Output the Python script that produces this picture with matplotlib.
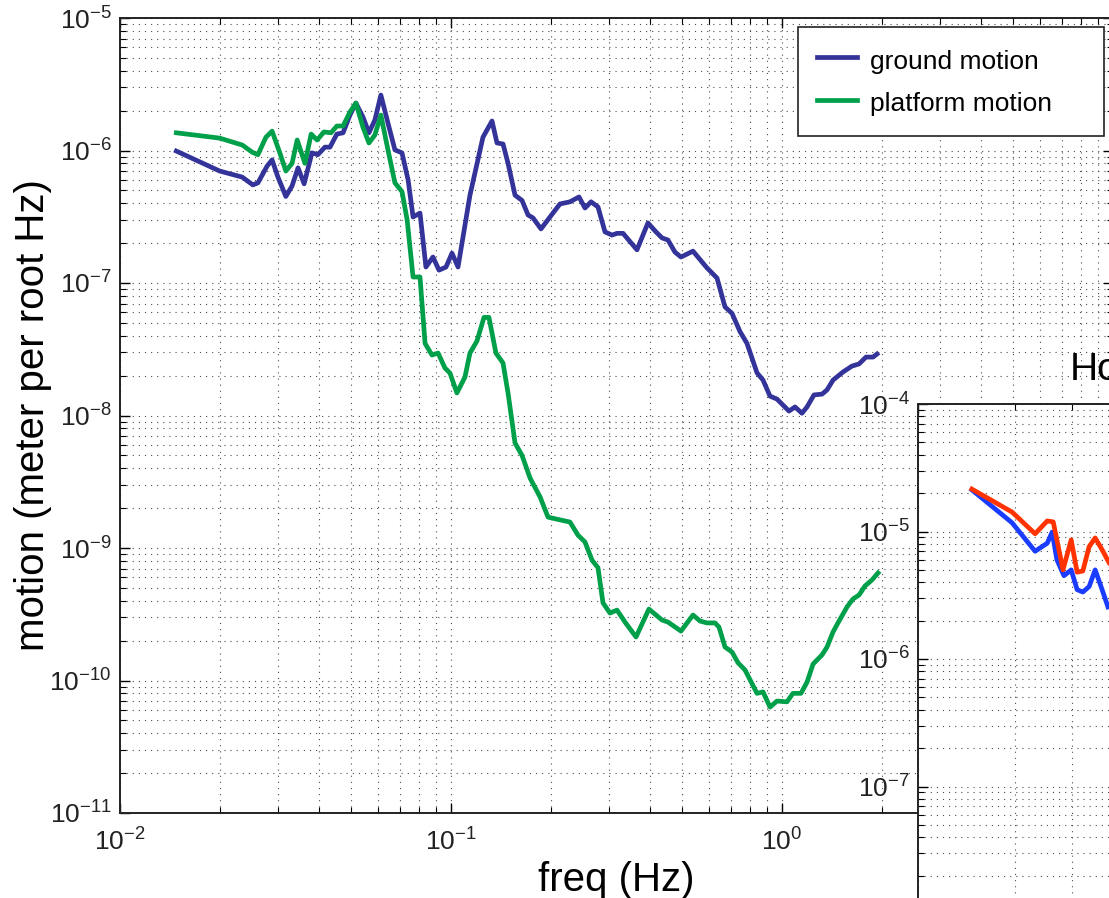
import numpy as np
import matplotlib
matplotlib.use("Agg")
import matplotlib.pyplot as plt
from matplotlib.ticker import LogLocator, NullFormatter

plt.rcParams["font.family"] = ["Liberation Sans", "DejaVu Sans"]
plt.rcParams["mathtext.fontset"] = "custom"
plt.rcParams["mathtext.rm"] = "Liberation Sans"

# ground / platform motion spectra (main panel)
freq_ground = [0.0148, 0.0200, 0.0234, 0.0252, 0.0261, 0.0278, 0.0288, 0.0300, 0.0317, 0.0331,
               0.0345, 0.0360, 0.0380, 0.0396, 0.0416, 0.0431, 0.0452, 0.0472, 0.0495, 0.0516,
               0.0542, 0.0565, 0.0589, 0.0614, 0.0645, 0.0677, 0.0711, 0.0742, 0.0768, 0.0806,
               0.0840, 0.0882, 0.0920, 0.0966, 0.1007, 0.1050,
               0.1141, 0.1249, 0.1330, 0.1377, 0.1436, 0.1487, 0.1561, 0.1639, 0.1709, 0.1769,
               0.1870, 0.1991, 0.2134, 0.2288, 0.2436, 0.2540, 0.2649, 0.2780, 0.2919, 0.3065,
               0.3174, 0.3310, 0.3646, 0.3935, 0.4162, 0.4340, 0.4524, 0.4750, 0.4952, 0.5384,
               0.5934, 0.6363, 0.6726, 0.7063, 0.7466, 0.7839, 0.8404, 0.8764, 0.9200, 0.9658,
               1.050, 1.095, 1.149, 1.190, 1.249, 1.321, 1.368, 1.426, 1.529, 1.627,
               1.709, 1.794, 1.884, 1.936]
ground = [9.9e-7, 7.0e-7, 6.3e-7, 5.5e-7, 5.7e-7, 7.6e-7, 8.5e-7, 6.3e-7, 4.5e-7, 5.4e-7,
          7.4e-7, 5.6e-7, 9.6e-7, 9.3e-7, 1.06e-6, 1.06e-6, 1.33e-6, 1.36e-6, 1.85e-6, 2.28e-6,
          1.79e-6, 1.36e-6, 1.70e-6, 2.62e-6, 1.61e-6, 1.01e-6, 9.6e-7, 6.0e-7, 3.15e-7, 3.37e-7,
          1.32e-7, 1.57e-7, 1.25e-7, 1.32e-7, 1.68e-7, 1.32e-7,
          4.6e-7, 1.26e-6, 1.67e-6, 1.14e-6, 1.12e-6, 8.0e-7, 4.6e-7, 4.2e-7, 3.26e-7, 3.1e-7,
          2.56e-7, 3.15e-7, 3.95e-7, 4.1e-7, 4.46e-7, 3.68e-7, 4.1e-7, 3.75e-7, 2.43e-7, 2.3e-7,
          2.37e-7, 2.37e-7, 1.78e-7, 2.84e-7, 2.43e-7, 2.19e-7, 2.11e-7, 1.71e-7, 1.57e-7, 1.74e-7,
          1.30e-7, 1.09e-7, 6.6e-8, 5.9e-8, 4.3e-8, 3.5e-8, 2.1e-8, 1.85e-8, 1.40e-8, 1.33e-8,
          1.08e-8, 1.16e-8, 1.04e-8, 1.16e-8, 1.43e-8, 1.45e-8, 1.56e-8, 1.85e-8, 2.13e-8, 2.36e-8,
          2.45e-8, 2.76e-8, 2.76e-8, 2.91e-8]

freq_platform = [0.0148, 0.0200, 0.0234, 0.0251, 0.0261, 0.0276, 0.0288, 0.0304, 0.0317, 0.0331,
                 0.0343, 0.0362, 0.0378, 0.0394, 0.0413, 0.0434, 0.0452, 0.0472, 0.0495, 0.0516,
                 0.0542, 0.0565, 0.0589, 0.0614, 0.0645, 0.0677, 0.0711, 0.0737, 0.0768, 0.0806,
                 0.0835, 0.0876, 0.0914, 0.0959, 0.0993, 0.1042, 0.1102, 0.1141, 0.1198, 0.1258,
                 0.1302, 0.1367, 0.1436, 0.1487, 0.1561, 0.1639, 0.1733, 0.1858, 0.1964, 0.2134,
                 0.2288, 0.2419, 0.2540, 0.2667, 0.2780, 0.2879, 0.3022, 0.3174, 0.3355, 0.3622,
                 0.3962, 0.4340, 0.4524, 0.4952, 0.5384, 0.5655, 0.5934, 0.6276, 0.6452, 0.6726,
                 0.7063, 0.7366, 0.7732, 0.8404, 0.8764, 0.9200, 0.9658, 1.035, 1.079, 1.141,
                 1.190, 1.241, 1.321, 1.368, 1.426, 1.476, 1.572, 1.638, 1.709, 1.782,
                 1.870, 1.950]
platform = [1.36e-6, 1.24e-6, 1.10e-6, 9.7e-7, 9.3e-7, 1.26e-6, 1.40e-6, 9.6e-7, 7.0e-7, 8.0e-7,
            1.20e-6, 8.0e-7, 1.33e-6, 1.20e-6, 1.38e-6, 1.36e-6, 1.53e-6, 1.53e-6, 1.95e-6, 2.28e-6,
            1.50e-6, 1.14e-6, 1.31e-6, 1.85e-6, 1.01e-6, 5.7e-7, 4.9e-7, 3.0e-7, 1.11e-7, 1.11e-7,
            3.5e-8, 2.86e-8, 2.96e-8, 2.28e-8, 2.09e-8, 1.48e-8, 1.95e-8, 2.96e-8, 3.65e-8, 5.5e-8,
            5.5e-8, 2.96e-8, 2.49e-8, 1.48e-8, 6.2e-9, 5.0e-9, 3.37e-9, 2.43e-9, 1.71e-9, 1.63e-9,
            1.57e-9, 1.25e-9, 1.11e-9, 8.1e-10, 7.1e-10, 3.85e-10, 3.23e-10, 3.40e-10, 2.76e-10, 2.13e-10,
            3.46e-10, 2.86e-10, 2.76e-10, 2.36e-10, 3.12e-10, 2.81e-10, 2.72e-10, 2.72e-10, 2.53e-10, 1.79e-10,
            1.64e-10, 1.36e-10, 1.20e-10, 8.0e-11, 8.2e-11, 6.3e-11, 7.0e-11, 6.9e-11, 8.0e-11, 8.0e-11,
            9.7e-11, 1.33e-10, 1.56e-10, 1.79e-10, 2.32e-10, 2.72e-10, 3.59e-10, 4.12e-10, 4.42e-10, 5.17e-10,
            5.74e-10, 6.48e-10]

# second (cropped) panel: horizontal motion
freq_hor_red = [0.0147, 0.0196, 0.0231, 0.0252, 0.0263, 0.0282, 0.0299, 0.0312, 0.0325, 0.0340,
                0.0355, 0.0373, 0.0392]
hor_red = [2.15e-5, 1.42e-5, 9.6e-6, 1.21e-5, 1.19e-5, 5.0e-6, 8.6e-6, 4.8e-6, 4.9e-6, 7.6e-6,
           8.9e-6, 7.2e-6, 5.7e-6]
freq_hor_blue = [0.0147, 0.0196, 0.0231, 0.0252, 0.0261, 0.0270, 0.0284, 0.0299, 0.0312, 0.0325,
                 0.0340, 0.0355, 0.0373, 0.0389]
hor_blue = [2.12e-5, 1.17e-5, 7.0e-6, 8.1e-6, 9.9e-6, 6.0e-6, 4.5e-6, 5.0e-6, 3.5e-6, 3.35e-6,
            3.7e-6, 5.0e-6, 3.5e-6, 2.56e-6]

W, H = 1109, 898
fig = plt.figure(figsize=(W / 100, H / 100), dpi=100)


def style_log_axes(ax):
    ax.set_xscale("log")
    ax.set_yscale("log")
    for axis in (ax.xaxis, ax.yaxis):
        axis.set_major_locator(LogLocator(base=10, numticks=30))
        axis.set_minor_locator(LogLocator(base=10, subs=np.arange(2, 10), numticks=300))
        axis.set_minor_formatter(NullFormatter())
    ax.tick_params(which="both", direction="in", top=True, right=True,
                   labelsize=19, labelcolor="#222222", pad=6)
    ax.tick_params(axis="x", which="major", pad=11)
    ax.tick_params(which="major", length=7, width=1)
    ax.tick_params(which="minor", length=4, width=0.8)
    ax.grid(True, which="both", linestyle=(0, (1, 4.5)), color="0.3", linewidth=0.8)
    ax.set_axisbelow(True)
    for sp in ax.spines.values():
        sp.set_linewidth(1.4)
        sp.set_color("#222222")


# main axes (right edge runs slightly past the cropped figure)
ax = fig.add_axes([120 / W, 1 - 813 / H, 993 / W, 795 / H])
style_log_axes(ax)
ax.plot(freq_ground, ground, color="#333399", lw=3.4, label="ground motion")
ax.plot(freq_platform, platform, color="#00a04a", lw=3.4, label="platform motion")
ax.set_xlim(1e-2, 1e1)
ax.set_ylim(1e-11, 1e-5)
ax.set_xlabel("freq (Hz)", fontsize=29, labelpad=4)
ax.set_ylabel("motion (meter per root Hz)", fontsize=29)
ax.yaxis.set_label_coords(-0.068, 0.5)
leg = ax.legend(loc="upper left", bbox_to_anchor=(798 / W, 1 - 137 / H, 306 / W, 110 / H),
                bbox_transform=fig.transFigure, mode="expand", fontsize=19,
                frameon=True, fancybox=False, framealpha=1, edgecolor="#222222",
                handlelength=1.5, handleheight=1.2, handletextpad=0.5, labelspacing=0.58,
                borderpad=0.73, borderaxespad=0)
leg.get_frame().set_linewidth(1.2)

# inset panel, cropped by the figure edge
ax2 = fig.add_axes([918 / W, 1 - (404 + 5 * 127.5) / H, 966 / W, 5 * 127.5 / H])
style_log_axes(ax2)
ax2.set_facecolor("white")
ax2.plot(freq_hor_blue, hor_blue, color="#1a3cff", lw=3.4)
ax2.plot(freq_hor_red, hor_red, color="#ff3300", lw=3.4)
ax2.set_xlim(1e-2, 1e1)
ax2.set_ylim(1e-9, 1e-4)
fig.text(1070 / W, 1 - 370 / H, "Horizontal", fontsize=28, ha="left", va="center")

fig.savefig("out.png", dpi=100)
